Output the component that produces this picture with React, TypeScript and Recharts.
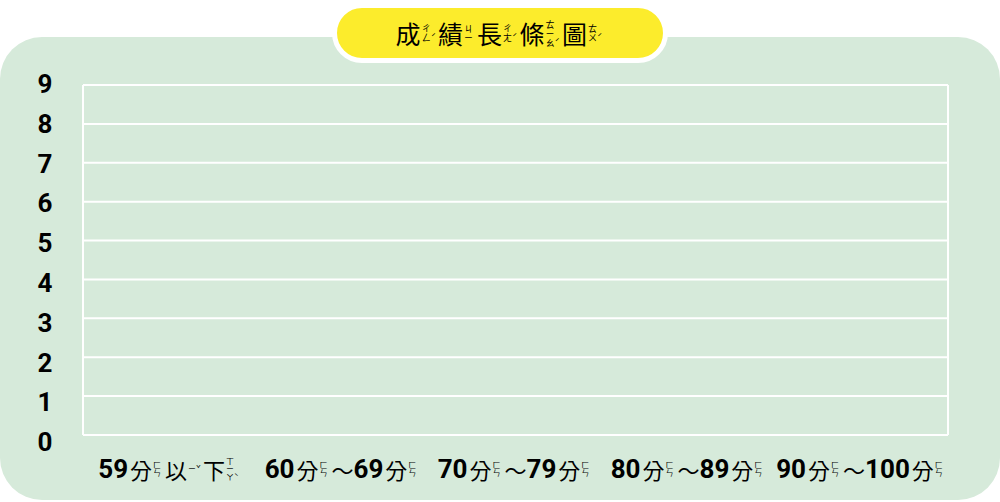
import { BarChart, Bar, XAxis, YAxis, CartesianGrid } from 'recharts';

// 分數區間（含注音）
const categories = ['59分以下', '60分～69分', '70分～79分', '80分～89分', '90分～100分'];
const counts = [0, 0, 0, 0, 0];
const yTicks = [0, 1, 2, 3, 4, 5, 6, 7, 8, 9];

// 國字 -> [注音, 聲調]
const zhuyin: Record<string, [string, string]> = {
  成: ['ㄔㄥ', 'ˊ'],
  績: ['ㄐㄧ', ''],
  長: ['ㄔㄤ', 'ˊ'],
  條: ['ㄊㄧㄠ', 'ˊ'],
  圖: ['ㄊㄨ', 'ˊ'],
  分: ['ㄈㄣ', ''],
  以: ['ㄧ', 'ˇ'],
  下: ['ㄒㄧㄚ', 'ˋ'],
};

const data = categories.map((name, i) => ({ name, count: counts[i] }));

const CJK = '"Noto Sans CJK TC", sans-serif';
const NUM = 'Roboto, "Noto Sans CJK TC", sans-serif';

function Ruby({ text, size, zsize, weight = 400 }: { text: string; size: number; zsize: number; weight?: number }) {
  const parts: JSX.Element[] = [];
  let digits = '';
  const flush = (k: number) => {
    if (digits) {
      parts.push(
        <span key={'d' + k} style={{ fontFamily: NUM, fontWeight: 700, fontSize: size + 4, lineHeight: 1, marginRight: 2 }}>
          {digits}
        </span>
      );
      digits = '';
    }
  };
  Array.from(text).forEach((ch, i) => {
    if (/[0-9]/.test(ch)) {
      digits += ch;
      return;
    }
    flush(i);
    const z = zhuyin[ch];
    parts.push(
      <span key={i} style={{ display: 'inline-flex', alignItems: 'center', marginRight: z ? 2 : 0 }}>
        <span style={{ fontFamily: CJK, fontWeight: weight, fontSize: size, lineHeight: 1 }}>{ch}</span>
        {z && (
          <span style={{ display: 'inline-flex', alignItems: 'flex-end', marginLeft: 1 }}>
            <span
              style={{
                display: 'inline-flex',
                flexDirection: 'column',
                fontFamily: CJK,
                fontSize: zsize,
                lineHeight: 1,
              }}
            >
              {Array.from(z[0]).map((c, j) => (
                <span key={j}>{c}</span>
              ))}
            </span>
            <span style={{ fontFamily: CJK, fontSize: zsize, lineHeight: 1, width: z[1] ? 'auto' : 2 }}>
              {z[1]}
            </span>
          </span>
        )}
      </span>
    );
  });
  flush(999);
  return <>{parts}</>;
}

function XTick({ x, y, payload }: any) {
  return (
    <foreignObject x={x - 110} y={y + 8} width={220} height={36}>
      <div
        style={{
          display: 'flex',
          justifyContent: 'center',
          alignItems: 'center',
          height: 36,
          color: '#000',
        }}
      >
        <Ruby text={payload.value} size={22} zsize={8} />
      </div>
    </foreignObject>
  );
}

function YTick({ y, payload }: any) {
  return (
    <text
      x={45}
      y={y - 1 + (9 - payload.value) * 0.9}
      textAnchor="middle"
      dominantBaseline="central"
      fontFamily={NUM}
      fontWeight={700}
      fontSize={26}
      fill="#000"
    >
      {payload.value}
    </text>
  );
}

export default function App() {
  return (
    <div style={{ position: 'absolute', left: 0, top: 0, width: 1000, height: 502, background: '#fff' }}>
      <div
        style={{
          position: 'absolute',
          left: 0,
          top: 37,
          width: 1000,
          height: 463,
          borderRadius: 42,
          background: '#d6eada',
        }}
      />
      <div style={{ position: 'absolute', left: 0, top: 0 }}>
        <BarChart width={1000} height={502} data={data} margin={{ top: 85, right: 52, bottom: 0, left: 0 }}>
          <CartesianGrid
            stroke="#ffffff"
            strokeWidth={2}
            verticalCoordinatesGenerator={({ offset }: any) => [offset.left, offset.left + offset.width]}
          />
          <XAxis dataKey="name" height={67} axisLine={false} tickLine={false} tick={<XTick />} interval={0} />
          <YAxis
            domain={[0, 9]}
            ticks={yTicks}
            width={83}
            axisLine={false}
            tickLine={false}
            tick={<YTick />}
            interval={0}
          />
          <Bar dataKey="count" fill="#8bc79a" isAnimationActive={false} />
        </BarChart>
      </div>
      <div
        style={{
          position: 'absolute',
          left: 332,
          top: 3,
          width: 326,
          height: 50,
          border: '5px solid #fff',
          borderRadius: 30,
          background: '#fcec2c',
          display: 'flex',
          justifyContent: 'center',
          alignItems: 'center',
          color: '#000',
        }}
      >
        <Ruby text="成績長條圖" size={25} zsize={9} weight={400} />
      </div>
    </div>
  );
}
